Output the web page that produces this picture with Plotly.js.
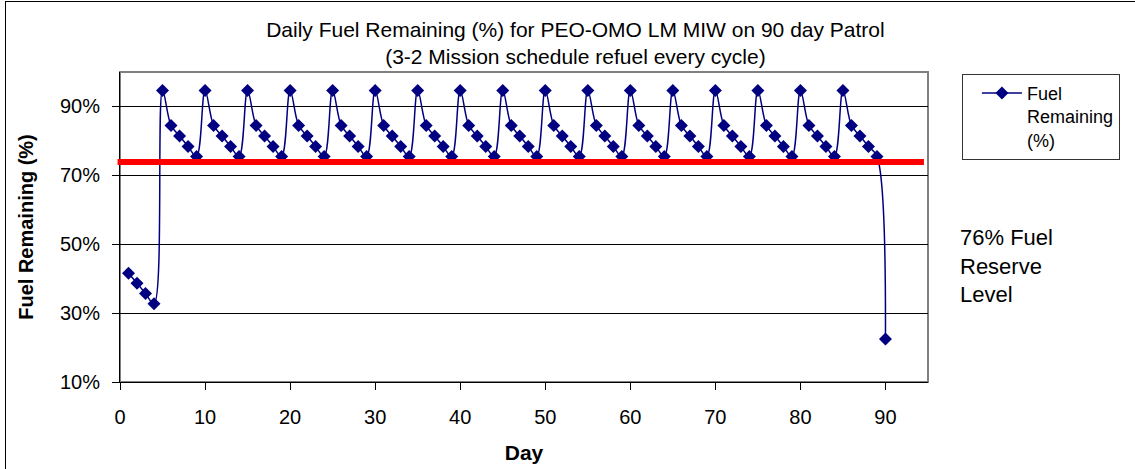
<!DOCTYPE html>
<html>
<head>
<meta charset="utf-8">
<script src="https://cdn.plot.ly/plotly-3.0.1.min.js"></script>
<style>
  html, body { margin: 0; padding: 0; background: #fff; overflow: hidden; }
  #wrap { position: relative; width: 1135px; height: 469px; }
  #chart { width: 1135px; height: 469px; }
  #frame { position: absolute; left: 5px; top: 1px; width: 1140px; height: 500px;
           border-left: 1px solid #000; border-top: 1px solid #000; pointer-events: none; }
</style>
</head>
<body>
<div id="wrap">
  <div id="chart"></div>
  <div id="frame"></div>
</div>
<script>
// ---- data ----
const days = [1,2,3,4,5,6,7,8,9,10,11,12,13,14,15,16,17,18,19,20,21,22,23,24,25,26,27,28,29,30,
              31,32,33,34,35,36,37,38,39,40,41,42,43,44,45,46,47,48,49,50,51,52,53,54,55,56,57,58,59,60,
              61,62,63,64,65,66,67,68,69,70,71,72,73,74,75,76,77,78,79,80,81,82,83,84,85,86,87,88,89,90];
const fuelRemaining = [41.6,38.7,35.7,32.7,
  94.6,84.5,81.4,78.4,75.5,  94.6,84.5,81.4,78.4,75.5,  94.6,84.5,81.4,78.4,75.5,
  94.6,84.5,81.4,78.4,75.5,  94.6,84.5,81.4,78.4,75.5,  94.6,84.5,81.4,78.4,75.5,
  94.6,84.5,81.4,78.4,75.5,  94.6,84.5,81.4,78.4,75.5,  94.6,84.5,81.4,78.4,75.5,
  94.6,84.5,81.4,78.4,75.5,  94.6,84.5,81.4,78.4,75.5,  94.6,84.5,81.4,78.4,75.5,
  94.6,84.5,81.4,78.4,75.5,  94.6,84.5,81.4,78.4,75.5,  94.6,84.5,81.4,78.4,75.5,
  94.6,84.5,81.4,78.4,75.5,  94.6,84.5,81.4,78.4,75.5,
  22.5];
const reserveLine = 73.9;
const yTicks = [10, 30, 50, 70, 90];
const yTickText = ['10%', '30%', '50%', '70%', '90%'];
const xTicks = [0, 10, 20, 30, 40, 50, 60, 70, 80, 90];

const FONT = 'Liberation Sans, Arial, sans-serif';

const trace = {
  x: days,
  y: fuelRemaining,
  type: 'scatter',
  mode: 'lines+markers',
  name: 'Fuel<br>Remaining<br>(%)',
  line: { color: '#000080', width: 1.5, shape: 'spline', smoothing: 1 },
  marker: { symbol: 'diamond', size: 10, color: '#000080' }
};

const layout = {
  width: 1135, height: 469,
  margin: { l: 120, r: 207, t: 72, b: 87 },
  paper_bgcolor: '#ffffff',
  plot_bgcolor: '#ffffff',
  font: { family: FONT, color: '#000', size: 20 },
  title: {
    text: 'Daily Fuel Remaining (%) for PEO-OMO LM MIW on 90 day Patrol<br>(3-2 Mission schedule refuel every cycle)',
    font: { family: FONT, size: 21, color: '#000' },
    xref: 'container', x: 0.507, xanchor: 'center',
    yref: 'container', y: 0.922, yanchor: 'middle'
  },
  xaxis: {
    range: [0, 95],
    tickvals: xTicks,
    ticks: 'outside', ticklen: 7, tickcolor: '#000', tickwidth: 1,
    showline: true, linecolor: '#000', linewidth: 1,
    showgrid: false, zeroline: false,
    tickfont: { family: FONT, size: 20, color: '#000' },
    ticklabelstandoff: 10,
    title: { text: '<b>Day</b>', font: { family: FONT, size: 21, color: '#000' }, standoff: 18 }
  },
  yaxis: {
    range: [10, 100],
    tickvals: yTicks, ticktext: yTickText,
    ticks: 'outside', ticklen: 7, tickcolor: '#000', tickwidth: 1,
    showline: true, linecolor: '#000', linewidth: 1,
    showgrid: true, gridcolor: '#000', gridwidth: 1,
    zeroline: false,
    tickfont: { family: FONT, size: 20, color: '#000' },
    ticklabelstandoff: 8,
    title: { text: '<b>Fuel Remaining (%)</b>', font: { family: FONT, size: 20, color: '#000' }, standoff: 20 }
  },
  showlegend: true,
  legend: {
    x: 1.042, xanchor: 'left', y: 0.994, yanchor: 'top',
    bordercolor: '#333', borderwidth: 1, bgcolor: '#fff',
    font: { family: FONT, size: 18, color: '#000' },
    valign: 'top',
    indentation: 14,
    itemwidth: 40
  },
  shapes: [
    { type: 'rect', xref: 'paper', yref: 'paper', x0: 0, x1: 1, y0: 0, y1: 1,
      line: { color: '#808080', width: 2 }, layer: 'below' },
    { type: 'line', xref: 'paper', yref: 'y', x0: -0.003, x1: 0.995, y0: reserveLine, y1: reserveLine,
      line: { color: '#ff0000', width: 6 } }
  ],
  annotations: [
    { text: '76% Fuel<br>Reserve<br>Level', xref: 'paper', yref: 'paper',
      x: 1.037, y: 0.374, xanchor: 'left', yanchor: 'middle', align: 'left', showarrow: false,
      font: { family: FONT, size: 22, color: '#000' } }
  ]
};

Plotly.newPlot('chart', [trace], layout, { displayModeBar: false, staticPlot: true });
</script>
</body>
</html>
